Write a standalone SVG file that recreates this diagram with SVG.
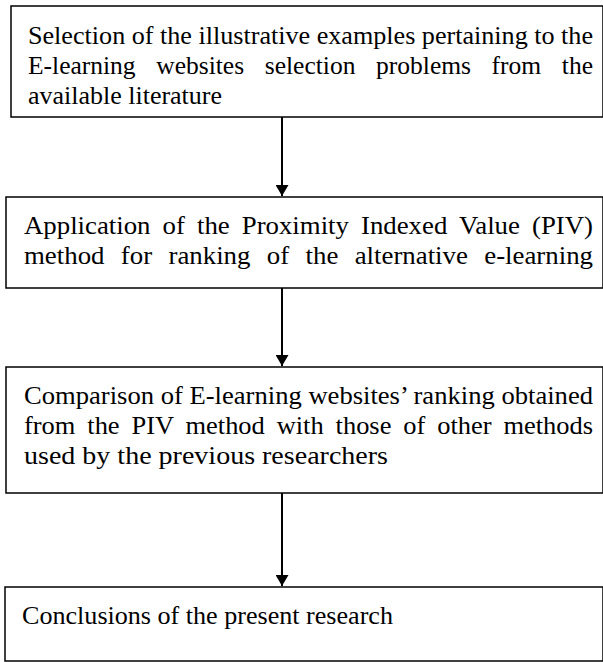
<svg xmlns="http://www.w3.org/2000/svg" width="603" height="662" viewBox="0 0 603 662">
<style>
.box{fill:#fff;stroke:#000;stroke-width:1.5}
.t{font-family:"Liberation Serif","Times New Roman",serif;font-size:25px;fill:#000}
.c{stroke:#000;stroke-width:2;fill:none}
</style>
<defs>
<marker id="ah" viewBox="0 0 11 13" refX="11" refY="6.5" markerWidth="11" markerHeight="13" markerUnits="userSpaceOnUse" orient="auto">
<path d="M0,0 L11,6.5 L0,13 Z" fill="#000"/>
</marker>
</defs>
<rect width="603" height="662" fill="#fff"/>
<g id="connectors">
<line class="c" x1="282" y1="117" x2="282" y2="196" marker-end="url(#ah)"/>
<line class="c" x1="282" y1="288" x2="282" y2="366" marker-end="url(#ah)"/>
<line class="c" x1="282" y1="493" x2="282" y2="586" marker-end="url(#ah)"/>
</g>
<g id="n1">
<rect class="box" x="11" y="6" width="592" height="111"/>
<text class="t" x="28" y="44" textLength="565" lengthAdjust="spacingAndGlyphs">Selection of the illustrative examples pertaining to the</text>
<text class="t" x="28" y="74" textLength="565" lengthAdjust="spacingAndGlyphs" word-spacing="14">E-learning websites selection problems from the</text>
<text class="t" x="28" y="104" textLength="194" lengthAdjust="spacingAndGlyphs">available literature</text>
</g>
<g id="n2">
<rect class="box" x="6" y="197" width="597" height="91"/>
<text class="t" x="24" y="234" textLength="569" lengthAdjust="spacingAndGlyphs" word-spacing="5">Application of the Proximity Indexed Value (PIV)</text>
<text class="t" x="24" y="264" textLength="569" lengthAdjust="spacingAndGlyphs" word-spacing="9">method for ranking of the alternative e-learning</text>
</g>
<g id="n3">
<rect class="box" x="6" y="367" width="597" height="126"/>
<text class="t" x="24" y="404" textLength="569" lengthAdjust="spacingAndGlyphs">Comparison of E-learning websites’ ranking obtained</text>
<text class="t" x="24" y="434" textLength="569" lengthAdjust="spacingAndGlyphs" word-spacing="5">from the PIV method with those of other methods</text>
<text class="t" x="24" y="464" textLength="364" lengthAdjust="spacingAndGlyphs">used by the previous researchers</text>
</g>
<g id="n4">
<rect class="box" x="5" y="587" width="598" height="74"/>
<text class="t" x="22" y="624" textLength="371" lengthAdjust="spacingAndGlyphs">Conclusions of the present research</text>
</g>
</svg>
